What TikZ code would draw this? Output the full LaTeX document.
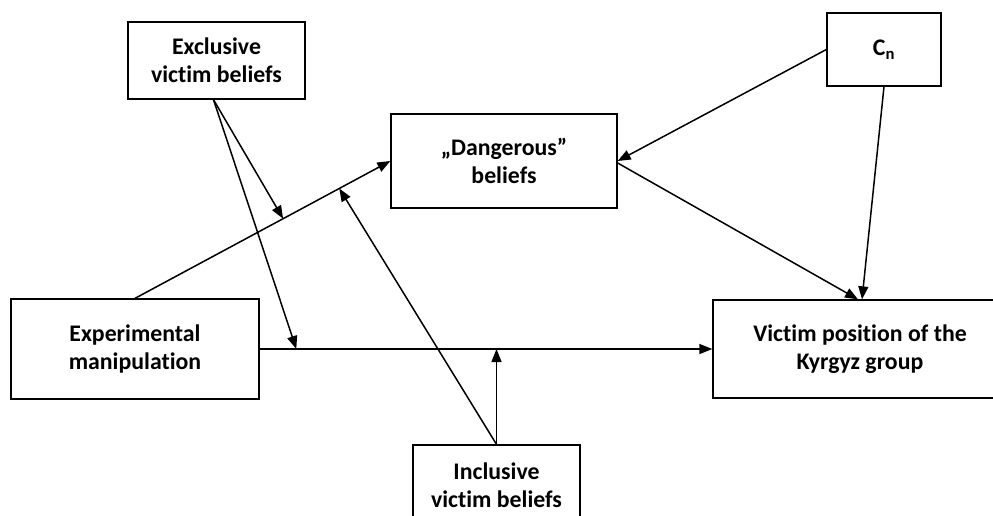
\documentclass[tikz,border=0pt]{standalone}
\usepackage{fontspec}
\setmainfont{Carlito}[Ligatures=NoCommon]
\usetikzlibrary{arrows.meta,calc}
\begin{document}
\begin{tikzpicture}[x=1pt,y=-1pt,
  box/.style={draw,line width=1.3pt,rectangle,align=center,inner sep=0pt,
    font=\fontsize{23.8}{28}\selectfont\bfseries},
  conn/.style={line width=1.5pt,-{Triangle[length=13pt,width=10pt]}}]
\useasboundingbox (0,0) rectangle (993,515);
\clip (0,0) rectangle (993,515);
\node[box,minimum width=177pt,minimum height=77pt] (excl) at (216.5,60.5) {Exclusive\\victim beliefs};
\node[box,minimum width=114pt,minimum height=73pt] (cn) at (884,49.5) {C\textsubscript{n}};
\node[box,minimum width=226pt,minimum height=94pt] (dang) at (504,161) {„Dangerous”\\beliefs};
\node[box,minimum width=248pt,minimum height=100pt] (exp) at (135,349) {Experimental\\manipulation};
\node[box,minimum width=294pt,minimum height=98pt] (vict) at (860,349) {Victim position of the\\Kyrgyz group};
\node[box,minimum width=167pt,minimum height=80pt] (incl) at (496.5,485) {Inclusive\\victim beliefs};
\coordinate (m1) at ($(exp.north)!0.58!(dang.west)$);
\coordinate (m3) at ($(exp.north)!0.8!(dang.west)$);
\coordinate (m2) at ($(exp.east)!0.081!(vict.west)$);
\coordinate (m4) at (incl.north |- exp.east);
\draw[conn] (exp.north) -- (dang.west);
\draw[conn] (exp.east) -- (vict.west);
\draw[conn] ([xshift=-3pt]excl.south) -- (m1);
\draw[conn] ([xshift=-3pt]excl.south) -- (m2);
\draw[conn] (incl.north) -- (m4);
\draw[conn] (incl.north) -- (m3);
\draw[conn] (cn.west) -- (dang.east);
\draw[conn] (cn.south) -- ([xshift=2pt]vict.north);
\draw[conn] ([yshift=-2pt]dang.east) -- ([xshift=-2pt]vict.north);
\end{tikzpicture}
\end{document}
